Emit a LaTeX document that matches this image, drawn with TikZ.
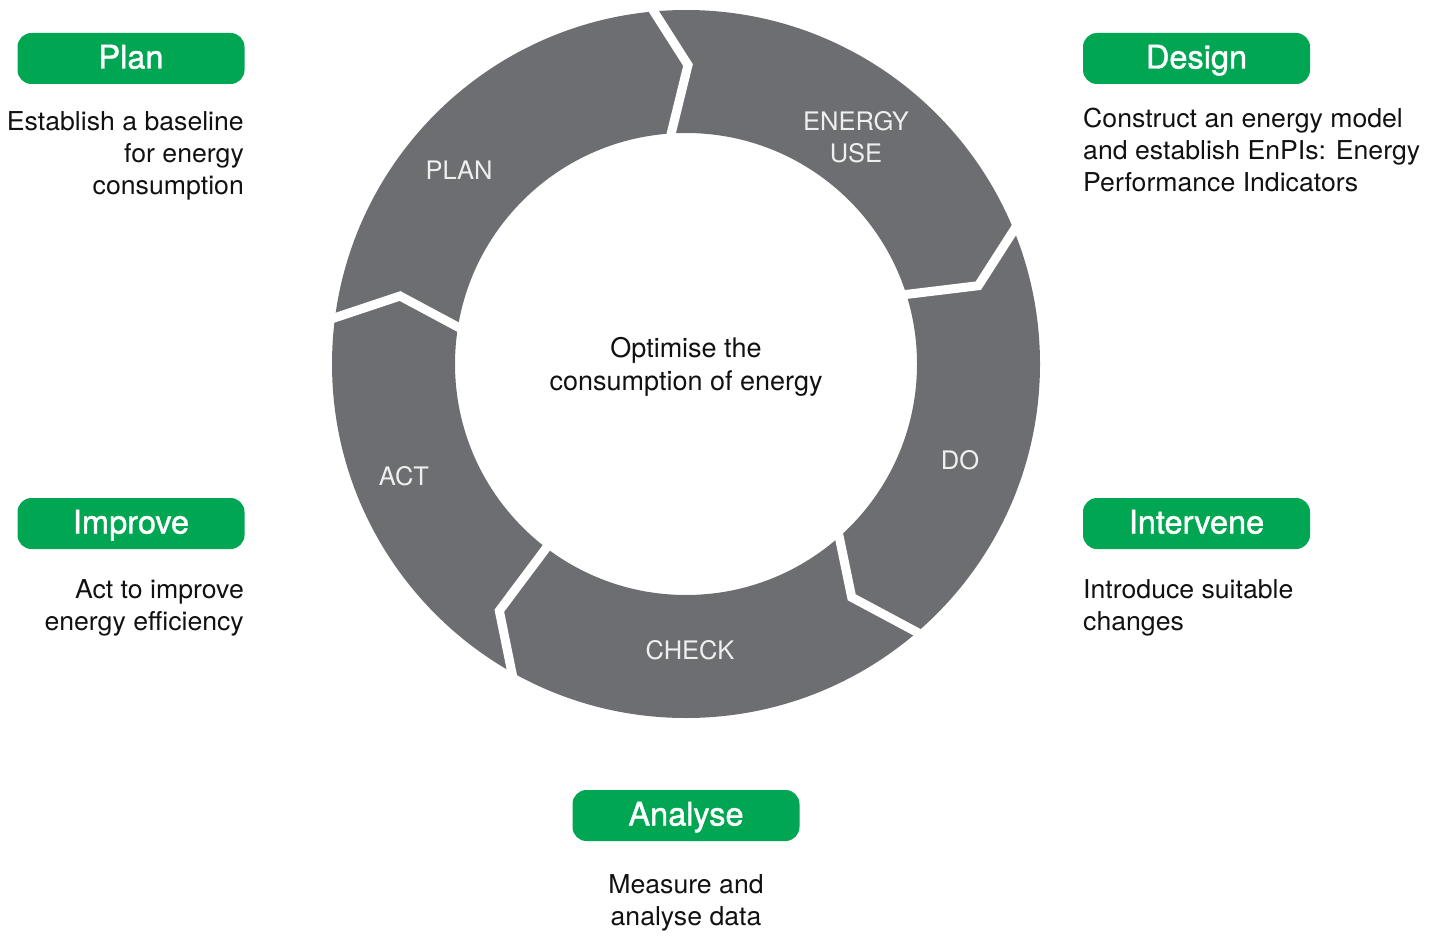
\documentclass[tikz,border=0pt]{standalone}
\usepackage{fontspec}
\setmainfont{TeX Gyre Heros}
\newfontfamily\boxfont[FakeBold=1.3]{TeX Gyre Heros}
\newfontfamily\descfont[FakeStretch=1.025]{TeX Gyre Heros}
\usetikzlibrary{calc}
\definecolor{ringgray}{HTML}{6D6E71}
\definecolor{boxgreen}{HTML}{00A651}
\definecolor{ringtext}{HTML}{EFEFEF}
\definecolor{desctext}{HTML}{111111}
\tikzset{
  greenbox/.style={fill=boxgreen, rounded corners=14pt, minimum width=227pt,
    minimum height=51pt, inner sep=0pt, text=white, text height=20pt, text depth=0pt,
    font=\boxfont\fontsize{32.5pt}{39pt}\selectfont},
  desc/.style={inner sep=0pt, text=desctext, font=\descfont\fontsize{26pt}{32pt}\selectfont},
  ringlabel/.style={inner sep=0pt, text=ringtext, align=center,
    font=\fontsize{25.5pt}{32pt}\selectfont},
  gapline/.style={draw=white, line width=9pt, line join=miter},
}
\begin{document}
\begin{tikzpicture}[x=1pt,y=-1pt]
\useasboundingbox (0,0) rectangle (1431,944);
% ring
\coordinate (c) at (686,364);
\fill[ringgray, even odd rule] (c) circle[radius=354pt] (c) circle[radius=231pt];
% gap points
\coordinate (o1) at (654,11.7);   \coordinate (v1) at (688,65);     \coordinate (i1) at (671.3,133);
\coordinate (o2) at (1014,230);   \coordinate (v2) at (978.3,285.7); \coordinate (i2) at (907.3,294.3);
\coordinate (o3) at (916,631.7);  \coordinate (v3) at (851.7,597.3); \coordinate (i3) at (839.3,537.3);
\coordinate (o4) at (511.7,671.7); \coordinate (v4) at (499.3,610.7); \coordinate (i4) at (546,548.3);
\coordinate (o5) at (333.3,318.3); \coordinate (v5) at (400,296);   \coordinate (i5) at (457.3,326.7);
\foreach \k in {1,...,5}{
  \draw[gapline] ($(v\k)!1.6!(o\k)$) -- (v\k) -- ($(v\k)!1.5!(i\k)$);
}
% ring labels
\node[ringlabel] (lplan) at (459,170) {PLAN};
\node[ringlabel] (luse) at (856,137) {ENERGY\\USE};
\node[ringlabel] (ldo) at (960,460) {DO};
\node[ringlabel] (lcheck) at (690,650) {CHECK};
\node[ringlabel] (lact) at (404,476) {ACT};
% centre text
\node[inner sep=0pt, text=desctext, align=center, anchor=north,
  font=\fontsize{27pt}{33pt}\selectfont] (centre) at (686,337.5)
  {Optimise the\\consumption of energy};
% green boxes
\node[greenbox] (bplan) at (131,58.5) {Plan};
\node[greenbox] (bdesign) at (1196.5,58.5) {Design};
\node[greenbox] (bimprove) at (131,523.5) {Improve};
\node[greenbox] (bintervene) at (1196.5,523.5) {Intervene};
\node[greenbox] (banalyse) at (686,815.5) {Analyse};
% descriptions
\node[desc, align=right, anchor=north east] (tplan) at (244,111)
  {Establish a baseline\\for energy\\consumption};
\node[desc, align=left, anchor=north west] (tdesign) at (1083,108)
  {Construct an energy model\\and establish EnPIs: Energy\\Performance Indicators};
\node[desc, align=right, anchor=north east] (timprove) at (244,579)
  {Act to improve\\energy efficiency};
\node[desc, align=left, anchor=north west] (tintervene) at (1083,579)
  {Introduce suitable\\changes};
\node[desc, align=center, anchor=north] (tanalyse) at (686,874)
  {Measure and\\analyse data};
\end{tikzpicture}
\end{document}
